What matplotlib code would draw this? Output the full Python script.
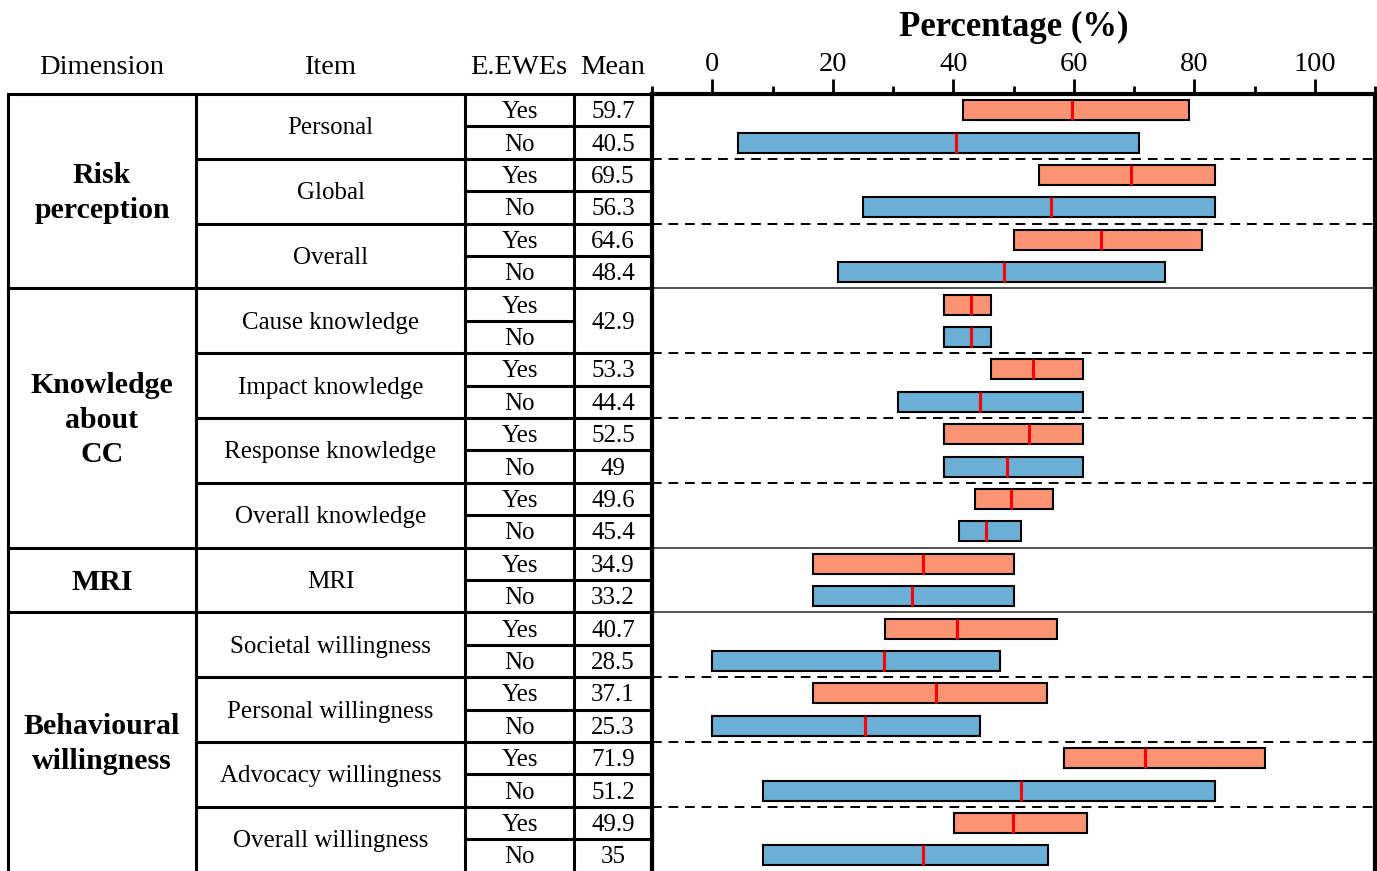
import matplotlib.pyplot as plt
import numpy as np

# ---- data ----
dimensions = ['Risk\nperception', 'Knowledge\nabout\nCC', 'MRI', 'Behavioural\nwillingness']
dim_items = [3, 4, 1, 4]  # number of items per dimension
items = ['Personal', 'Global', 'Overall',
         'Cause knowledge', 'Impact knowledge', 'Response knowledge', 'Overall knowledge',
         'MRI',
         'Societal willingness', 'Personal willingness', 'Advocacy willingness',
         'Overall willingness']
groups = ['Yes', 'No']
means_yes = [59.7, 69.5, 64.6, 42.9, 53.3, 52.5, 49.6, 34.9, 40.7, 37.1, 71.9, 49.9]
means_no = [40.5, 56.3, 48.4, 42.9, 44.4, 49.0, 45.4, 33.2, 28.5, 25.3, 51.2, 35.0]
mean_labels_yes = ['59.7', '69.5', '64.6', '42.9', '53.3', '52.5', '49.6', '34.9',
                   '40.7', '37.1', '71.9', '49.9']
mean_labels_no = ['40.5', '56.3', '48.4', '42.9', '44.4', '49', '45.4', '33.2',
                  '28.5', '25.3', '51.2', '35']
low_yes = [41.7, 54.2, 50.1, 38.5, 46.2, 38.5, 43.6, 16.7, 28.6, 16.7, 58.4, 40.2]
high_yes = [79.2, 83.4, 81.3, 46.2, 61.6, 61.6, 56.5, 50.1, 57.2, 55.6, 91.8, 62.2]
low_no = [4.2, 25.0, 20.8, 38.5, 30.8, 38.5, 41.0, 16.7, 0.0, 0.0, 8.4, 8.4]
high_no = [70.9, 83.4, 75.1, 46.2, 61.6, 61.6, 51.3, 50.1, 47.7, 44.5, 83.4, 55.8]
merged_mean = ['Cause knowledge']  # one shared mean cell

# ---- layout (pixels) ----
W, H = 1377, 871
TOP = 94
ROW_H = 32.4
COLS = [8, 196, 465, 574, 652]
CHART_R = 1375
FONT = 'Liberation Serif'
ORANGE = '#FC9474'
BLUE = '#6BAED6'
BODY = 18
HEAD = 20.5
DY = 2  # small downward nudge for cell text

n_rows = 2 * len(items)

fig = plt.figure(figsize=(W / 100, H / 100), dpi=100)

# overlay axes in pixel coordinates for the table
tab = fig.add_axes([0, 0, 1, 1])
tab.set_xlim(0, W)
tab.set_ylim(H, 0)
tab.axis('off')


def row_y(r):
    return TOP + r * ROW_H


def cell_text(x, y, s, **kw):
    tab.text(x, y + DY, s, ha='center', va='center', family=FONT, **kw)


lw = 2.2
# headers
for txt, x in [('Dimension', 102), ('Item', 330), ('E.EWEs', 519), ('Mean', 613)]:
    tab.text(x, 68, txt, ha='center', va='center', fontsize=HEAD, family=FONT)

# vertical lines
bottom = row_y(n_rows)
for x in COLS:
    tab.plot([x, x], [TOP, bottom], color='k', lw=lw, solid_capstyle='projecting')
tab.plot([CHART_R, CHART_R], [TOP, bottom], color='k', lw=3)
tab.plot([COLS[0], COLS[-1]], [TOP, TOP], color='k', lw=lw)

# dimension cells
r = 0
item_idx = 0
for dim, n in zip(dimensions, dim_items):
    r0 = r
    r1 = r + 2 * n
    cell_text((COLS[0] + COLS[1]) / 2, (row_y(r0) + row_y(r1)) / 2, dim,
              fontsize=21.5, fontweight='bold', linespacing=1.38)
    for k in range(n):
        name = items[item_idx]
        ra = r + 2 * k
        cell_text((COLS[1] + COLS[2]) / 2, row_y(ra + 1), name, fontsize=BODY)
        for g, grp in enumerate(groups):
            cell_text((COLS[2] + COLS[3]) / 2, row_y(ra + g + 0.5), grp, fontsize=BODY)
        if name in merged_mean:
            cell_text((COLS[3] + COLS[4]) / 2, row_y(ra + 1),
                      mean_labels_yes[item_idx], fontsize=BODY)
            tab.plot([COLS[2], COLS[3]], [row_y(ra + 1)] * 2, color='k', lw=lw)
        else:
            cell_text((COLS[3] + COLS[4]) / 2, row_y(ra + 0.5),
                      mean_labels_yes[item_idx], fontsize=BODY)
            cell_text((COLS[3] + COLS[4]) / 2, row_y(ra + 1.5),
                      mean_labels_no[item_idx], fontsize=BODY)
            tab.plot([COLS[2], COLS[4]], [row_y(ra + 1)] * 2, color='k', lw=lw)
        # line below item
        if k < n - 1:
            tab.plot([COLS[1], COLS[4]], [row_y(ra + 2)] * 2, color='k', lw=lw)
        item_idx += 1
    if r1 < n_rows:
        tab.plot([COLS[0], COLS[4]], [row_y(r1)] * 2, color='k', lw=lw)
    r = r1

# ---- chart axes ----
ax = fig.add_axes([COLS[-1] / W, 1 - bottom / H, (CHART_R - COLS[-1]) / W,
                   (bottom - TOP) / H])
ax.patch.set_alpha(0)
ax.set_xlim(-10, 110)
ax.set_ylim(n_rows - 0.5, -0.5)

y_yes = np.arange(len(items)) * 2
y_no = y_yes + 1
lows = np.array(low_yes), np.array(low_no)
highs = np.array(high_yes), np.array(high_no)
bh = 0.62
ax.barh(y_yes, highs[0] - lows[0], left=lows[0], height=bh, color=ORANGE,
        edgecolor='k', linewidth=1.5, zorder=3)
ax.barh(y_no, highs[1] - lows[1], left=lows[1], height=bh, color=BLUE,
        edgecolor='k', linewidth=1.5, zorder=3)
ax.vlines(means_yes, y_yes - bh / 2, y_yes + bh / 2, color='red', lw=2.2, zorder=4)
ax.vlines(means_no, y_no - bh / 2, y_no + bh / 2, color='red', lw=2.2, zorder=4)

# separators
r = 0
for n in dim_items:
    for k in range(1, n):
        ax.axhline(r + 2 * k - 0.5, color='k', ls=(0, (5, 3.5)), lw=1.4, zorder=1)
    r += 2 * n
    if r < n_rows:
        ax.axhline(r - 0.5, color='0.2', lw=1.2, zorder=1)

ax.xaxis.tick_top()
ax.set_xticks(np.arange(0, 101, 20))
ax.set_xticks(np.arange(-10, 111, 20), minor=True)
ax.tick_params(axis='x', which='major', length=11, width=2, labelsize=20.5, pad=1.5)
ax.tick_params(axis='x', which='minor', length=6, width=2)
for lab in ax.get_xticklabels():
    lab.set_family(FONT)
ax.set_yticks([])
for side in ['top', 'left']:
    ax.spines[side].set_linewidth(3)
ax.spines['right'].set_visible(False)
ax.spines['bottom'].set_visible(False)

fig.text((COLS[-1] + CHART_R) / 2 / W, 1 - 27 / H, 'Percentage (%)', ha='center',
         va='center', fontsize=25, fontweight='bold', family=FONT)

fig.savefig('out.png', dpi=100)
